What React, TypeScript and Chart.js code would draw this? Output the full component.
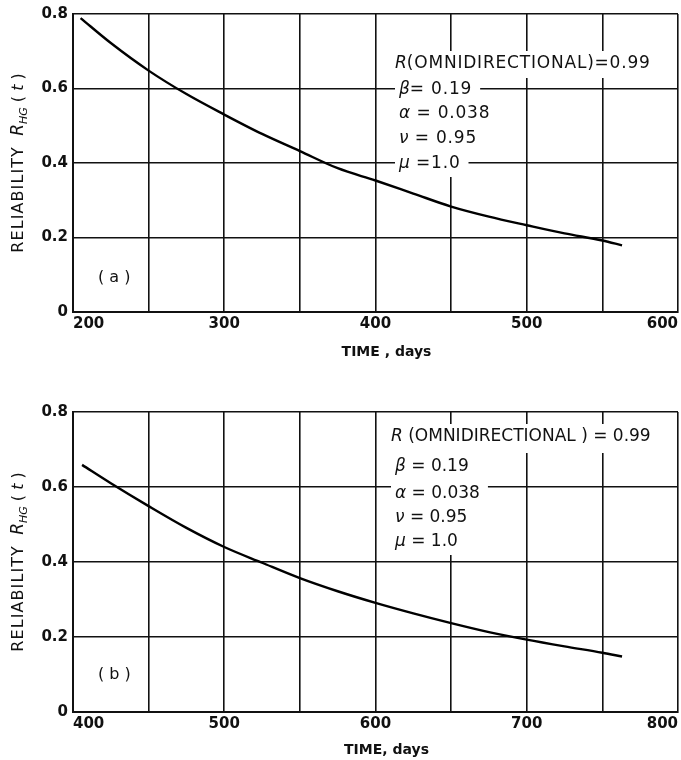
import React, { useEffect, useRef } from "react";
import { Chart, registerables } from "chart.js";

Chart.register(...registerables);

// Panel (a): reliability vs. time, 200–600 days
const timeA = [205, 225, 250, 275, 300, 325, 350, 375, 400, 425, 450, 475, 500, 525, 550, 563];
const reliabilityA = [0.789, 0.722, 0.648, 0.585, 0.53, 0.478, 0.432, 0.386, 0.353, 0.318, 0.283, 0.256, 0.233, 0.211, 0.192, 0.179];

// Panel (b): reliability vs. time, 400–800 days
const timeB = [406, 425, 450, 475, 500, 525, 550, 575, 600, 625, 650, 675, 700, 725, 750, 763];
const reliabilityB = [0.659, 0.61, 0.549, 0.491, 0.44, 0.398, 0.357, 0.322, 0.291, 0.263, 0.237, 0.213, 0.193, 0.175, 0.158, 0.148];

// Axis ticks
const gridTimesA = [200, 250, 300, 350, 400, 450, 500, 550, 600];
const labelTimesA = [200, 300, 400, 500, 600];
const gridTimesB = [400, 450, 500, 550, 600, 650, 700, 750, 800];
const labelTimesB = [400, 500, 600, 700, 800];
const reliabilityTicks = [0, 0.2, 0.4, 0.6, 0.8];
const reliabilityTickLabels = ["0", "0.2", "0.4", "0.6", "0.8"];

// Parameter legend text: [italic symbol, remainder]
const paramsA: [string, string][] = [
  ["R", "(OMNIDIRECTIONAL)=0.99"],
  ["β", "= 0.19"],
  ["α", " = 0.038"],
  ["ν", " = 0.95"],
  ["μ", " =1.0"],
];
const paramsB: [string, string][] = [
  ["R", " (OMNIDIRECTIONAL ) = 0.99"],
  ["β", " = 0.19"],
  ["α", " = 0.038"],
  ["ν", " = 0.95"],
  ["μ", " = 1.0"],
];

const INK = "#111";
const FONT = "'DejaVu Sans', sans-serif";

type Seg = { t: string; font: string; dy?: number; ls?: number };

function segsWidth(ctx: CanvasRenderingContext2D, segs: Seg[]) {
  let w = 0;
  for (const s of segs) {
    ctx.font = s.font;
    (ctx as any).letterSpacing = `${s.ls || 0}px`;
    w += ctx.measureText(s.t).width;
  }
  (ctx as any).letterSpacing = "0px";
  return w;
}

function drawSegs(ctx: CanvasRenderingContext2D, segs: Seg[], x: number, y: number) {
  let cx = x;
  for (const s of segs) {
    ctx.font = s.font;
    (ctx as any).letterSpacing = `${s.ls || 0}px`;
    ctx.fillText(s.t, cx, y + (s.dy || 0));
    cx += ctx.measureText(s.t).width;
  }
  (ctx as any).letterSpacing = "0px";
}

type PanelProps = {
  times: number[];
  values: number[];
  gridTimes: number[];
  labelTimes: number[];
  xMin: number;
  xMax: number;
  xTitle: string;
  tag: string;
  params: [string, string][];
  height: number;
  padTop: number;
  padRight: number;
  xAxisHeight: number;
  xTitleDy: number;
  legendX: number;
  legendRows: number[];
  legendSpacing: number;
  tagDy: number;
};

function Panel(p: PanelProps) {
  const ref = useRef<HTMLCanvasElement | null>(null);

  useEffect(() => {
    const canvas = ref.current;
    if (!canvas) return;

    const overlay = {
      id: "overlay",
      beforeDatasetsDraw(chart: any) {
        const { ctx, chartArea } = chart;
        ctx.save();
        ctx.fillStyle = INK;
        ctx.textBaseline = "middle";
        ctx.textAlign = "left";

        // parameter block with white backing behind each line
        const rows = p.legendRows;
        p.params.forEach(([sym, rest], i) => {
          const segs: Seg[] = [
            { t: sym, font: `italic 17px ${FONT}` },
            { t: rest, font: `17px ${FONT}`, ls: p.legendSpacing },
          ];
          const x = chartArea.left + p.legendX + (i === 0 ? 0 : 4);
          const y = chartArea.top + rows[i];
          const w = segsWidth(ctx, segs);
          const top = i === 0 ? y - 13 : chartArea.top + (rows[i - 1] + rows[i]) / 2 - 1;
          const bottom = i === rows.length - 1 ? y + 13 : chartArea.top + (rows[i] + rows[i + 1]) / 2 + 1;
          ctx.fillStyle = "#fff";
          ctx.fillRect(x - 4, top, w + 12, bottom - top);
        });
        p.params.forEach(([sym, rest], i) => {
          const segs: Seg[] = [
            { t: sym, font: `italic 17px ${FONT}` },
            { t: rest, font: `17px ${FONT}`, ls: p.legendSpacing },
          ];
          const x = chartArea.left + p.legendX + (i === 0 ? 0 : 4);
          const y = chartArea.top + rows[i];
          ctx.fillStyle = INK;
          drawSegs(ctx, segs, x, y);
        });

        // panel tag
        ctx.font = `16px ${FONT}`;
        ctx.fillText(p.tag, chartArea.left + 25, chartArea.bottom - p.tagDy);

        // x-axis title
        ctx.font = `bold 14px ${FONT}`;
        ctx.textAlign = "center";
        ctx.fillText(p.xTitle, (chartArea.left + chartArea.right) / 2 + 11, chartArea.bottom + p.xTitleDy);
        ctx.textAlign = "left";

        // y-axis title, rotated
        const ySegs: Seg[] = [
          { t: "RELIABILITY", font: `16px ${FONT}`, ls: 1.1 },
          { t: "  ", font: `16px ${FONT}` },
          { t: "R", font: `italic 17px ${FONT}` },
          { t: "HG", font: `italic 11px ${FONT}`, dy: 5 },
          { t: " ( ", font: `16px ${FONT}` },
          { t: "t", font: `italic 16px ${FONT}` },
          { t: " )", font: `16px ${FONT}` },
        ];
        const tw = segsWidth(ctx, ySegs);
        const cy = (chartArea.top + chartArea.bottom) / 2;
        ctx.translate(19, cy);
        ctx.rotate(-Math.PI / 2);
        drawSegs(ctx, ySegs, -tw / 2, 0);
        ctx.restore();
      },
    };

    const chart = new Chart(canvas, {
      type: "line",
      data: {
        datasets: [
          {
            data: p.times.map((t, i) => ({ x: t, y: p.values[i] })),
            borderColor: "#000",
            borderWidth: 2.4,
            pointRadius: 0,
            fill: false,
            cubicInterpolationMode: "monotone",
          },
        ],
      },
      options: {
        responsive: false,
        animation: false,
        devicePixelRatio: 1,
        layout: { padding: { top: p.padTop, right: p.padRight, left: 0, bottom: 0 } },
        plugins: { legend: { display: false }, tooltip: { enabled: false } },
        scales: {
          x: {
            type: "linear",
            min: p.xMin,
            max: p.xMax,
            afterBuildTicks: (s: any) => {
              s.ticks = p.gridTimes.map((v) => ({ value: v }));
            },
            afterFit: (s: any) => {
              s.height = p.xAxisHeight;
            },
            ticks: {
              autoSkip: false,
              maxRotation: 0,
              align: "inner",
              padding: 3,
              color: INK,
              font: { family: FONT, size: 15, weight: "bold" },
              callback: (v: any) => (p.labelTimes.includes(Number(v)) ? String(v) : ""),
            },
            grid: { color: INK, lineWidth: 1.6, drawTicks: false },
            border: { color: INK, width: 2 },
          },
          y: {
            type: "linear",
            min: 0,
            max: 0.8,
            afterBuildTicks: (s: any) => {
              s.ticks = reliabilityTicks.map((v) => ({ value: v }));
            },
            afterFit: (s: any) => {
              s.width = 73;
            },
            ticks: {
              padding: 5,
              color: INK,
              font: { family: FONT, size: 15, weight: "bold" },
              callback: (v: any) => {
                const idx = reliabilityTicks.findIndex((t) => Math.abs(t - Number(v)) < 1e-9);
                return idx >= 0 ? reliabilityTickLabels[idx] : "";
              },
            },
            grid: { color: INK, lineWidth: 1.6, drawTicks: false },
            border: { color: INK, width: 2 },
          },
        },
      } as any,
      plugins: [overlay],
    });

    return () => chart.destroy();
  }, []);

  return <canvas ref={ref} width={681} height={p.height} style={{ display: "block" }} />;
}

export default function App() {
  return (
    <div style={{ position: "absolute", left: 0, top: 0, width: 681, height: 760, background: "#fff" }}>
      <Panel
        times={timeA}
        values={reliabilityA}
        gridTimes={gridTimesA}
        labelTimes={labelTimesA}
        xMin={200}
        xMax={600}
        xTitle="TIME , days"
        tag="( a )"
        params={paramsA}
        height={370}
        padTop={13}
        padRight={2}
        xAxisHeight={58}
        xTitleDy={40}
        legendX={322}
        legendRows={[50, 76, 100, 125, 150]}
        legendSpacing={0.8}
        tagDy={34}
      />
      <Panel
        times={timeB}
        values={reliabilityB}
        gridTimes={gridTimesB}
        labelTimes={labelTimesB}
        xMin={400}
        xMax={800}
        xTitle="TIME, days"
        tag="( b )"
        params={paramsB}
        height={390}
        padTop={42}
        padRight={1}
        xAxisHeight={48}
        xTitleDy={38}
        legendX={318}
        legendRows={[25, 55, 82, 106, 130]}
        legendSpacing={0}
        tagDy={37}
      />
    </div>
  );
}
